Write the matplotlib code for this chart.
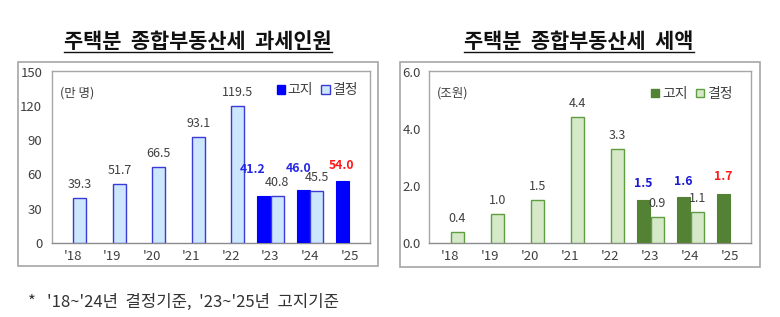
import matplotlib
matplotlib.use("Agg")
import matplotlib.pyplot as plt
from matplotlib.patches import Rectangle, Patch
from matplotlib.lines import Line2D
import numpy as np

plt.rcParams['font.family'] = ['Noto Sans CJK KR', 'DejaVu Sans']

# ---------------- data ----------------
years = ["'18", "'19", "'20", "'21", "'22", "'23", "'24", "'25"]
people_notice = [None, None, None, None, None, 41.2, 46.0, 54.0]
people_decided = [39.3, 51.7, 66.5, 93.1, 119.5, 40.8, 45.5, None]
tax_notice = [None, None, None, None, None, 1.5, 1.6, 1.7]
tax_decided = [0.4, 1.0, 1.5, 4.4, 3.3, 0.9, 1.1, None]
people_yticks = [0, 30, 60, 90, 120, 150]
tax_yticks = [0.0, 2.0, 4.0, 6.0]
title_left = "주택분  종합부동산세  과세인원"
title_right = "주택분  종합부동산세  세액"
unit_left = "(만 명)"
unit_right = "(조원)"
legend_labels = ["고지", "결정"]
footnote = "*   '18~'24년  결정기준,  '23~'25년  고지기준"

W, H = 780, 317
fig = plt.figure(figsize=(W / 100, H / 100), dpi=100)

def fx(px):
    return px / W

def fy(py):
    return 1 - py / H

GRAY_TXT = '#404040'
FRAME = '#A6A6A6'

def draw_panel(ax_rect, box_rect, notice, decided, yticks, fmt, ylim,
               c_notice, c_dec_fill, c_dec_edge, unit, notice_offsets,
               blue_lbl, red_lbl, tick_pad, leg_anchor):
    ax = fig.add_axes(ax_rect)
    x = np.arange(len(years))
    bw = 0.33
    off = 0.175
    for i in range(len(years)):
        if notice[i] is not None:
            ax.bar(x[i] - off, notice[i], width=bw, color=c_notice,
                   edgecolor=c_notice, linewidth=0.8, zorder=3)
        if decided[i] is not None:
            ax.bar(x[i] + off, decided[i], width=bw, color=c_dec_fill,
                   edgecolor=c_dec_edge, linewidth=1.0, zorder=3)
            ax.annotate(fmt(decided[i]), (x[i] + off, decided[i]),
                        xytext=(0, 5), textcoords='offset points',
                        ha='center', va='bottom', fontsize=9,
                        color=GRAY_TXT)
    k = 0
    for i in range(len(years)):
        if notice[i] is not None:
            dx, dy = notice_offsets[k]
            col = red_lbl if i == len(years) - 1 else blue_lbl
            ax.annotate(fmt(notice[i]), (x[i] - off, notice[i]),
                        xytext=(dx, dy), textcoords='offset points',
                        ha='center', va='bottom', fontsize=8.8,
                        fontweight='bold', color=col)
            k += 1
    ax.set_xlim(-0.53, len(years) - 0.48)
    ax.set_ylim(*ylim)
    ax.set_yticks(yticks)
    ax.set_yticklabels([fmt(v) for v in yticks])
    ax.set_xticks(x)
    ax.set_xticklabels(years)
    ax.tick_params(axis='both', length=0, labelsize=9.5, colors=GRAY_TXT)
    ax.tick_params(axis='y', pad=tick_pad)
    ax.tick_params(axis='x', pad=5)
    for s in ax.spines.values():
        s.set_color(FRAME)
        s.set_linewidth(1.0)
    ax.spines['bottom'].set_color('#8C8C8C')
    ax.text(0.025, 0.87, unit, transform=ax.transAxes, fontsize=9,
            color=GRAY_TXT, ha='left', va='center')
    handles = [Patch(facecolor=c_notice, edgecolor=c_notice),
               Patch(facecolor=c_dec_fill, edgecolor=c_dec_edge)]
    leg = ax.legend(handles, legend_labels, loc='upper right', ncol=2,
                    frameon=False, fontsize=10, handlelength=0.6,
                    handleheight=0.6, handletextpad=0.2, columnspacing=0.6,
                    bbox_to_anchor=leg_anchor, borderaxespad=0)
    for t in leg.get_texts():
        t.set_color(GRAY_TXT)
    x0, y0, x1, y1 = box_rect
    fig.patches.append(Rectangle((fx(x0), fy(y1)), fx(x1) - fx(x0),
                                 fy(y0) - fy(y1), transform=fig.transFigure,
                                 fill=False, edgecolor=FRAME, linewidth=1.2))
    return ax

fmt_int = lambda v: f"{v:.1f}" if isinstance(v, float) else str(v)
fmt1 = lambda v: f"{v:.1f}"

ax1 = draw_panel([fx(52), fy(243), fx(370) - fx(52), fy(71) - fy(243)],
                 (18, 62, 378, 266), people_notice, people_decided,
                 people_yticks, fmt_int, (0, 150.5),
                 '#0000FF', '#CCE6FC', '#3A3AD6', unit_left,
                 [(-8, 14), (-3, 11), (-1, 7)], '#2626E6', '#FF1A1A', 7,
                 (0.98, 0.96))
ax2 = draw_panel([fx(429), fy(243), fx(751) - fx(429), fy(71) - fy(243)],
                 (400, 62, 760, 267), tax_notice, tax_decided,
                 tax_yticks, fmt1, (0, 6.02),
                 '#548235', '#D5E8C8', '#5E9E40', unit_right,
                 [(0, 7), (0, 7), (0, 8)], '#1A1AD6', '#FF1A1A', 6,
                 (0.96, 0.94))

t1 = fig.text(fx(198), fy(42), title_left, ha='center', va='center',
              fontsize=15, fontweight='bold', color='#111111')
t2 = fig.text(fx(579), fy(42), title_right, ha='center', va='center',
              fontsize=15, fontweight='bold', color='#111111')
fn = fig.text(fx(28), fy(302), footnote, ha='left', va='center', fontsize=12,
              color='#333333')

fig.canvas.draw()
r = fig.canvas.get_renderer()
for t in (t1, t2):
    bb = t.get_window_extent(r)
    yline = fy(51.5)
    fig.add_artist(Line2D([bb.x0 / W, bb.x1 / W], [yline, yline],
                          transform=fig.transFigure, color='#111111', lw=1.0))

fig.savefig('out.png', dpi=100)
